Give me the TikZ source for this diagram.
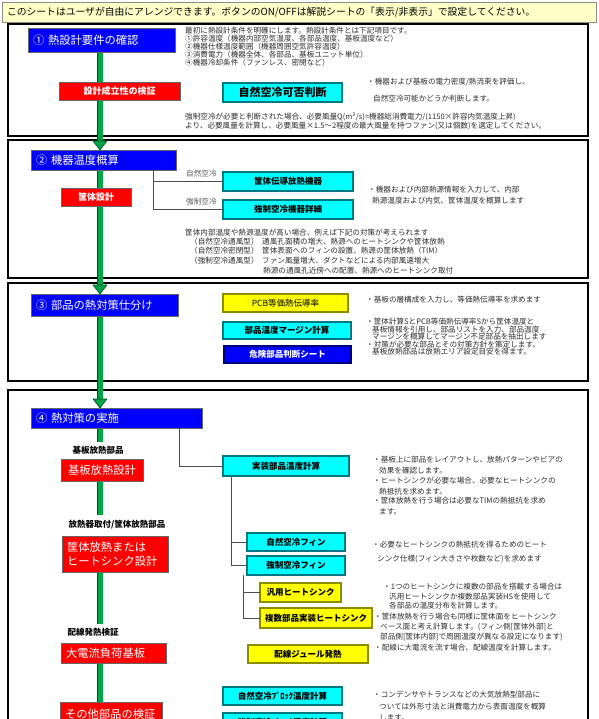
\documentclass[tikz,border=0pt]{standalone}
\usepackage{fontspec}
\setmainfont{Noto Sans CJK JP}
\usetikzlibrary{calc}
\definecolor{gcol}{RGB}{0,165,70}
\definecolor{gdark}{RGB}{0,80,35}
\definecolor{cyanb}{RGB}{0,255,255}
\definecolor{cyand}{RGB}{0,120,130}
\definecolor{yelb}{RGB}{255,255,0}
\definecolor{yeld}{RGB}{140,140,0}
\definecolor{blueb}{RGB}{0,0,255}
\definecolor{blued}{RGB}{0,0,120}
\definecolor{redb}{RGB}{255,0,0}
\definecolor{bannerf}{RGB}{255,255,200}
\definecolor{txt}{RGB}{45,45,45}
\pgfdeclarelayer{bg}\pgfdeclarelayer{mid}\pgfsetlayers{bg,mid,main}
\tikzset{
  box/.style={anchor=north west, inner sep=0pt, outer sep=0pt},
  frame/.style={box, draw=black, line width=1.6pt},
  banner/.style={box, fill=bannerf, draw=black!45, line width=0.8pt, text width=584pt, inner xsep=5pt, minimum height=20pt, align=left, font=\fontsize{9.8}{10}\selectfont},
  hdr/.style={box, fill=blueb, draw=black!60, line width=0.6pt, text=white, align=left, inner xsep=5pt, font=\fontsize{11.3}{12}\selectfont},
  rsmall/.style={box, fill=redb, draw=black!60, line width=0.6pt, text=white, font=\bfseries\fontsize{9}{10}\selectfont},
  rbig/.style={box, fill=redb, draw=black!60, line width=0.6pt, text=white, align=left, inner xsep=5pt, font=\fontsize{11.3}{14.5}\selectfont},
  btn/.style={box, line width=0.5pt, draw=black, double distance=1.3pt, font=\bfseries\fontsize{8.5}{9}\selectfont},
  cbtn/.style={btn, fill=cyanb, double=cyand},
  ybtn/.style={btn, fill=yelb, double=yeld},
  bbtn/.style={btn, fill=blueb, double=blued, text=white},
  tx/.style={anchor=west, inner sep=0pt, text=txt, font=\fontsize{7.6}{8}\selectfont},
  glab/.style={tx, text=black!65},
  lab/.style={anchor=center, inner sep=0pt, text=black, font=\bfseries\fontsize{8.5}{9}\selectfont},
  gbar/.style={draw=gdark, line width=0.6pt, double=gcol, double distance=5pt},
  ghead/.style={fill=gcol, draw=gdark, line width=0.6pt},
  conn/.style={draw=black!70, line width=0.7pt}
}
\newcommand{\tl}[4]{\node[tx] (#1) at (#2,#3) {#4};}
\begin{document}
\begin{tikzpicture}[x=1pt,y=-1pt]
\useasboundingbox (0,0) rectangle (598,719);
\coordinate (gx) at (100,0);
\begin{pgfonlayer}{bg}
\node[frame, minimum width=580pt, minimum height=112pt] (f1) at (8,24) {};
\node[frame, minimum width=580pt, minimum height=138pt] (f2) at (8,140) {};
\node[frame, minimum width=580pt, minimum height=98pt] (f3) at (8,283) {};
\node[frame, minimum width=580pt, minimum height=370pt] (f4) at (8,390) {};
\end{pgfonlayer}

\node[banner] (banner) at (2,2) {このシートはユーザが自由にアレンジできます。ボタンのON/OFFは解説シートの「表示/非表示」で設定してください。};

% ---------- section 1
\node[hdr, text width=137pt, minimum height=24pt] (h1) at (28,28) {① 熱設計要件の確認};
\node[rsmall, minimum width=121pt, minimum height=18pt] (r1) at (59,82) {設計成立性の検証};
\node[cbtn, minimum width=119pt, minimum height=19pt, font=\bfseries\fontsize{11}{12}\selectfont] (b1) at (223,83) {自然空冷可否判断};
\tl{s1a}{185}{31}{最初に熱設計条件を明確にします。熱設計条件とは下記項目です。}
\tl{s1b}{185}{39}{①許容温度（機器内部空気温度、各部品温度、基板温度など）}
\tl{s1c}{185}{47}{②機器仕様温度範囲（機器周囲空気許容温度）}
\tl{s1d}{185}{55}{③消費電力（機器全体、各部品、基板ユニット単位）}
\tl{s1e}{185}{63}{④機器冷却条件（ファンレス、密閉など）}
\tl{s1f}{367}{82}{・機器および基板の電力密度/熱流束を評価し、}
\tl{s1g}{373}{99}{自然空冷可能かどうか判断します。}
\tl{s1h}{185}{117}{強制空冷が必要と判断された場合、必要風量Q(m\textsuperscript{3}/s)=機器総消費電力/(1150×許容内気温度上昇)}
\tl{s1i}{185}{126}{より、必要風量を計算し、必要風量×1.5～2程度の最大風量を持つファン(又は個数)を選定してください。}

% ---------- section 2
\node[hdr, text width=135pt, minimum height=20pt] (h2) at (31,150) {② 機器温度概算};
\node[rsmall, minimum width=70pt, minimum height=18pt] (r2) at (61,188) {筐体設計};
\node[cbtn, minimum width=130pt, minimum height=19pt] (b2) at (223,172) {筐体伝導放熱機器};
\node[cbtn, minimum width=130pt, minimum height=19pt] (b3) at (223,200) {強制空冷機器詳細};
\node[glab] (l2a) at (186,174) {自然空冷};
\node[glab] (l2b) at (186,202) {強制空冷};
\tl{s2a}{368}{190}{・機器および内部熱源情報を入力して、内部}
\tl{s2b}{372}{201}{熱源温度および内気、筐体温度を概算します}
\tl{s2c}{185}{233}{筐体内部温度や熱源温度が高い場合、例えば下記の対策が考えられます}
\tl{s2d}{190}{242}{（自然空冷通風型）}
\tl{s2e}{190}{251}{（自然空冷密閉型）}
\tl{s2f}{190}{261}{（強制空冷通風型）}
\tl{s2d2}{262}{242}{通風孔面積の増大、熱源へのヒートシンクや筐体放熱}
\tl{s2e2}{262}{251}{筐体表面へのフィンの設置、熱源の筐体放熱（TIM）}
\tl{s2f2}{262}{261}{ファン風量増大、ダクトなどによる内部風速増大}
\tl{s2g2}{263}{271}{熱源の通風孔近傍への配置、熱源へのヒートシンク取付}

% ---------- section 3
\node[hdr, text width=137pt, minimum height=22pt] (h3) at (31,294) {③ 部品の熱対策仕分け};
\node[ybtn, minimum width=125pt, minimum height=18pt, font=\fontsize{8.5}{9}\selectfont] (b4) at (223,294) {PCB等価熱伝導率};
\node[cbtn, minimum width=128pt, minimum height=17pt] (b5) at (223,322) {部品温度マージン計算};
\node[bbtn, minimum width=127pt, minimum height=17pt] (b6) at (224,346) {危険部品判断シート};
\tl{s3a}{366}{300}{・基板の層構成を入力し、等価熱伝導率を求めます}
\tl{s3b}{366}{322}{・筐体計算SとPCB等価熱伝導率Sから筐体温度と}
\tl{s3c}{372}{329.5}{基板情報を引用し、部品リストを入力、部品温度}
\tl{s3d}{372}{337}{マージンを概算してマージン不足部品を抽出します}
\tl{s3e}{366}{344.5}{・対策が必要な部品とその対策方針を策定します。}
\tl{s3f}{372}{352}{基板放熱部品は放熱エリア設定目安を得ます。}

% ---------- section 4
\node[hdr, text width=161pt, minimum height=20pt] (h4) at (31,408) {④ 熱対策の実施};
\node[lab] (lb1) at (98,450) {基板放熱部品};
\node[rbig, text width=72pt, minimum height=22pt, align=center] (rb1) at (61,459) {基板放熱設計};
\node[lab] (lb2) at (117,525) {放熱器取付/筐体放熱部品};
\node[rbig, text width=96pt, minimum height=36pt] (rb2) at (62,536) {筐体放熱または\\ヒートシンク設計};
\node[lab] (lb3) at (93,632) {配線発熱検証};
\node[rbig, text width=95pt, minimum height=20pt] (rb3) at (61,643) {大電流負荷基板};
\node[rbig, text width=92pt, minimum height=24pt] (rb4) at (60,702) {その他部品の検証};

\node[cbtn, minimum width=126pt, minimum height=20pt] (b7) at (223,456) {実装部品温度計算};
\node[cbtn, minimum width=98pt, minimum height=18pt] (b8) at (247,533) {自然空冷フィン};
\node[cbtn, minimum width=98pt, minimum height=19pt] (b9) at (247,556) {強制空冷フィン};
\node[ybtn, minimum width=81pt, minimum height=19pt] (b10) at (260,583) {汎用ヒートシンク};
\node[ybtn, minimum width=112pt, minimum height=20pt] (b11) at (260,608) {複数部品実装ヒートシンク};
\node[ybtn, minimum width=120pt, minimum height=18pt] (b12) at (248,645) {配線ジュール発熱};
\node[cbtn, minimum width=119pt, minimum height=18pt] (b13) at (223,687) {自然空冷ﾌﾞﾛｯｸ温度計算};
\node[cbtn, minimum width=119pt, minimum height=18pt] (b14) at (223,713) {強制空冷ﾌﾞﾛｯｸ温度計算};

\tl{s4a}{373}{460}{・基板上に部品をレイアウトし、放熱パターンやビアの}
\tl{s4b}{379}{471}{効果を確認します。}
\tl{s4c}{373}{481}{・ヒートシンクが必要な場合、必要なヒートシンクの}
\tl{s4d}{379}{491.5}{熱抵抗を求めます。}
\tl{s4e}{373}{501}{・筐体放熱を行う場合は必要なTIMの熱抵抗を求め}
\tl{s4f}{379}{512}{ます。}
\tl{s4g}{372}{545}{・必要なヒートシンクの熱抵抗を得るためのヒート}
\tl{s4h}{377}{559}{シンク仕様(フィン大きさや枚数など)を求めます}
\tl{s4i}{383}{587}{・1つのヒートシンクに複数の部品を搭載する場合は}
\tl{s4j}{389}{597}{汎用ヒートシンクか複数部品実装HSを使用して}
\tl{s4k}{389}{606}{各部品の温度分布を計算します。}
\tl{s4l}{374}{617}{・筐体放熱を行う場合も同様に筐体面をヒートシンク}
\tl{s4m}{380}{627}{ベース面と考え計算します。(フィン側[筐体外部]と}
\tl{s4n}{380}{637}{部品側[筐体内部]で周囲温度が異なる設定になります)}
\tl{s4o}{374}{648}{・配線に大電流を流す場合、配線温度を計算します。}
\tl{s4p}{373}{695}{・コンデンサやトランスなどの大気放熱型部品に}
\tl{s4q}{379}{707}{ついては外形寸法と消費電力から表面温度を概算}
\tl{s4r}{379}{718}{します。}

% ---------- thin connectors
\coordinate (c2) at ($(h2.south west)+(122,0)$);
\draw[conn] (c2) |- (b2.west);
\draw[conn] (c2) |- (b3.west);
\coordinate (c4) at ($(h4.south west)+(148,0)$);
\draw[conn] (c4) |- (b7.west);
\coordinate (c5) at ($(b7.south west)+(8,0)$);
\draw[conn] (c5) |- (b8.west);
\draw[conn] (c5) |- (b9.west);
\coordinate (c6) at ($(b9.south west)+(-4,0)$);
\draw[conn] (c6) |- (b10.west);
\draw[conn] (c6) |- (b11.west);

% ---------- green flow bars
\begin{pgfonlayer}{mid}
\draw[gbar] (h1.south -| gx) -- ($(h2.north -| gx)+(0,-9)$);
\draw[ghead] ($(h2.north -| gx)+(-7,-9)$) -- ($(h2.north -| gx)+(7,-9)$) -- (h2.north -| gx) -- cycle;
\draw[gbar] (h2.south -| gx) -- ($(h3.north -| gx)+(0,-9)$);
\draw[ghead] ($(h3.north -| gx)+(-7,-9)$) -- ($(h3.north -| gx)+(7,-9)$) -- (h3.north -| gx) -- cycle;
\draw[gbar] (h3.south -| gx) -- ($(h4.north -| gx)+(0,-9)$);
\draw[ghead] ($(h4.north -| gx)+(-7,-9)$) -- ($(h4.north -| gx)+(7,-9)$) -- (h4.north -| gx) -- cycle;
\draw[gbar] (h4.south -| gx) -- ($(lb1.north -| gx)+(0,-4)$);
\draw[gbar] (rb1.south -| gx) -- ($(lb2.north -| gx)+(0,-5)$);
\draw[gbar] (rb2.south -| gx) -- ($(lb3.north -| gx)+(0,-4)$);
\draw[gbar] (rb3.south -| gx) -- (rb4.north -| gx);
\end{pgfonlayer}
\end{tikzpicture}
\end{document}
